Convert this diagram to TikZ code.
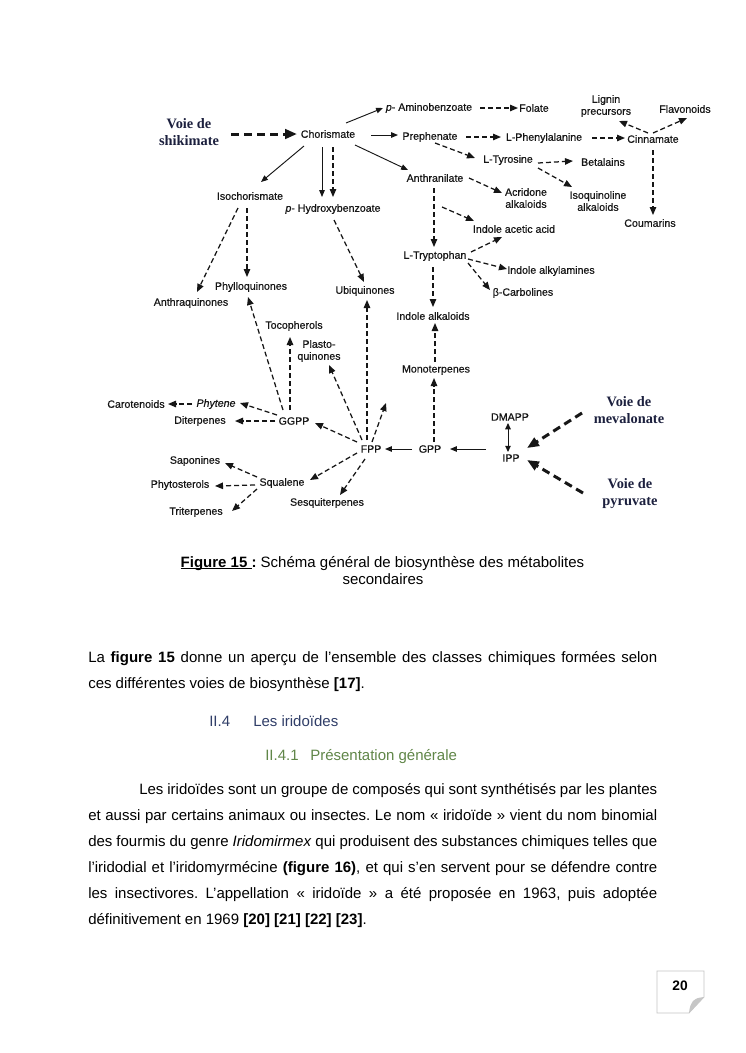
\documentclass[tikz,border=0pt]{standalone}
\usepackage{fontspec}
\setmainfont{Liberation Sans}
\newfontfamily\vfont{Liberation Serif}
\newfontfamily\lblfont{Liberation Sans}[FakeBold=0.5]
\usetikzlibrary{arrows.meta,calc}
\definecolor{headblue}{RGB}{48,62,104}
\definecolor{headgreen}{RGB}{96,134,72}
\definecolor{voiecol}{RGB}{28,32,62}
\definecolor{inkcol}{RGB}{22,22,22}
\newcommand\figul[1]{\setbox0\hbox{#1}\rlap{\rule[-1.7pt]{\wd0}{0.7pt}}\box0}
\tikzset{
  lbl/.style={font=\lblfont\fontsize{8.5}{9.6}\selectfont, inner sep=0pt, align=center, text=inkcol},
  voie/.style={font=\vfont\bfseries\fontsize{11.5}{13.6}\selectfont, inner sep=0pt, align=center, text=voiecol},
  txt/.style={font=\frenchspacing\fontsize{12}{14}\selectfont, inner sep=0pt},
  sarr/.style={-{Triangle[length=5.5pt,width=4.4pt]}, line width=0.75pt, draw=inkcol},
  darr/.style={-{Triangle[length=6.4pt,width=5.2pt]}, line width=1pt, dash pattern=on 4pt off 2.4pt, draw=inkcol},
  tarr/.style={-{Triangle[length=9.5pt,width=7.5pt]}, line width=2.4pt, dash pattern=on 6.4pt off 4pt, draw=inkcol},
  dbl/.style={{Triangle[length=5pt,width=4.4pt]}-{Triangle[length=5pt,width=4.4pt]}, line width=0.75pt, draw=inkcol},
}
\begin{document}
\begin{tikzpicture}[x=0.8pt,y=-0.8pt]
\fill[white] (0,0) rectangle (745,1053);
\useasboundingbox (0,0) rectangle (745,1053);

% ---------- diagram nodes ----------
\node[voie] (shik) at (189,132) {Voie de\\shikimate};
\node[lbl] (chor) at (328,134) {Chorismate};
\node[lbl] (pab) at (429,108) {\textit{p}- Aminobenzoate};
\node[lbl] (fol) at (534,108) {Folate};
\node[lbl] (preph) at (430,137) {Prephenate};
\node[lbl] (lphe) at (544,138) {L-Phenylalanine};
\node[lbl] (cinn) at (653,139) {Cinnamate};
\node[lbl] (lign) at (606,106) {Lignin\\precursors};
\node[lbl] (flav) at (685,109) {Flavonoids};
\node[lbl] (coum) at (650,223) {Coumarins};
\node[lbl] (ltyr) at (508,160) {L-Tyrosine};
\node[lbl] (beta) at (603,162) {Betalains};
\node[lbl] (isoq) at (598,201) {Isoquinoline\\alkaloids};
\node[lbl] (anth) at (435,178) {Anthranilate};
\node[lbl] (acri) at (526,198) {Acridone\\alkaloids};
\node[lbl] (iaa) at (514,229) {Indole acetic acid};
\node[lbl] (ltrp) at (435,256) {L-Tryptophan};
\node[lbl] (ialk) at (551,271) {Indole alkylamines};
\node[lbl] (bcarb) at (523,293) {β-Carbolines};
\node[lbl] (indalk) at (433,316) {Indole alkaloids};
\node[lbl] (mono) at (436,370) {Monoterpenes};
\node[lbl] (gpp) at (430,449) {GPP};
\node[lbl] (dmapp) at (510,417) {DMAPP};
\node[lbl] (ipp) at (511,458) {IPP};
\node[voie] (meva) at (629,410) {Voie de\\mevalonate};
\node[voie] (pyru) at (630,494) {Voie de\\pyruvate};
\node[lbl] (isoch) at (250,196) {Isochorismate};
\node[lbl] (phb) at (333,209) {\textit{p}- Hydroxybenzoate};
\node[lbl] (anthq) at (191,303) {Anthraquinones};
\node[lbl] (phyl) at (251,287) {Phylloquinones};
\node[lbl] (ubi) at (365,291) {Ubiquinones};
\node[lbl] (toco) at (294,326) {Tocopherols};
\node[lbl] (plasto) at (319,351) {Plasto-\\quinones};
\node[lbl] (ggpp) at (294,421) {GGPP};
\node[lbl] (fpp) at (371,449) {FPP};
\node[lbl] (carot) at (136,404) {Carotenoids};
\node[lbl] (phyt) at (216,404) {\textit{Phytene}};
\node[lbl] (diter) at (200,421) {Diterpenes};
\node[lbl] (squal) at (282,483) {Squalene};
\node[lbl] (sesq) at (327,503) {Sesquiterpenes};
\node[lbl] (sapo) at (195,461) {Saponines};
\node[lbl] (phyto) at (180,485) {Phytosterols};
\node[lbl] (trit) at (196,512) {Triterpenes};
\coordinate (fppup) at (386,403);

% ---------- connectors ----------
\draw[tarr] ($(shik)+(42,2)$) -- ($(chor)+(-31,0)$);
\draw[sarr] ($(chor)+(18,-11)$) -- ($(pab)+(-46,0)$);
\draw[sarr] ($(chor)+(43,1)$) -- ($(preph)+(-32,-2)$);
\draw[sarr] ($(chor)+(27,11)$) -- ($(anth)+(-27,-8)$);
\draw[sarr] ($(chor)+(-24,12)$) -- ($(isoch)+(11,-14)$);
\draw[sarr] ($(chor)+(-6,13)$) -- ($(phb)+(-11,-12)$);
\draw[darr] ($(chor)+(5,13)$) -- ($(phb)+(0,-12)$);
\draw[darr] ($(pab)+(51,0)$) -- ($(fol)+(-16,0)$);
\draw[darr] ($(preph)+(36,0)$) -- ($(lphe)+(-43,-1)$);
\draw[darr] ($(lphe)+(48,0)$) -- ($(cinn)+(-28,-1)$);
\draw[darr] ($(cinn)+(-5,-6)$) -- ($(lign)+(13,15)$);
\draw[darr] ($(cinn)+(0,-6)$) -- ($(flav)+(2,9)$);
\draw[darr] ($(cinn)+(0,11)$) -- ($(coum)+(3,-8)$);
\draw[darr] ($(preph)+(5,6)$) -- ($(ltyr)+(-33,-2)$);
\draw[darr] ($(ltyr)+(30,3)$) -- ($(beta)+(-30,-1)$);
\draw[darr] ($(ltyr)+(30,8)$) -- ($(isoq)+(-26,-14)$);
\draw[darr] ($(anth)+(34,0)$) -- ($(acri)+(-24,-5)$);
\draw[darr] ($(anth)+(-1,10)$) -- ($(ltrp)+(-1,-9)$);
\draw[darr] ($(anth)+(7,29)$) -- ($(iaa)+(-40,-8)$);
\draw[darr] ($(ltrp)+(36,-4)$) -- ($(iaa)+(-12,8)$);
\draw[darr] ($(ltrp)+(33,3)$) -- ($(ialk)+(-44,-2)$);
\draw[darr] ($(ltrp)+(33,7)$) -- ($(bcarb)+(-33,-3)$);
\draw[darr] ($(ltrp)+(-2,11)$) -- ($(indalk)+(0,-9)$);
\draw[darr] ($(mono)+(-1,-8)$) -- ($(indalk)+(2,7)$);
\draw[darr] ($(gpp)+(4,-7)$) -- ($(mono)+(-2,8)$);
\draw[sarr] ($(ipp)+(-25,-9)$) -- ($(gpp)+(20,0)$);
\draw[sarr] ($(gpp)+(-18,0)$) -- ($(fpp)+(14,0)$);
\draw[dbl] ($(dmapp)+(-2,6)$) -- ($(ipp)+(-3,-6)$);
\draw[tarr] ($(meva)+(-47,3)$) -- ($(ipp)+(16,-10)$);
\draw[tarr] ($(pyru)+(-47,-1)$) -- ($(ipp)+(16,2)$);
\draw[darr] ($(isoch)+(-12,12)$) -- ($(anthq)+(6,-11)$);
\draw[darr] ($(isoch)+(-3,12)$) -- ($(phyl)+(-4,-10)$);
\draw[darr] ($(phb)+(1,11)$) -- ($(ubi)+(-1,-9)$);
\draw[darr] ($(ggpp)+(-11,-11)$) -- ($(phyl)+(-3,10)$);
\draw[darr] ($(ggpp)+(-4,-11)$) -- ($(toco)+(-4,11)$);
\draw[darr] ($(fpp)+(-9,-9)$) -- ($(plasto)+(10,14)$);
\draw[darr] ($(fpp)+(-4,-9)$) -- ($(ubi)+(2,9)$);
\draw[darr] ($(fpp)+(1,-7)$) -- (fppup);
\draw[darr] ($(fpp)+(-14,-7)$) -- ($(ggpp)+(21,2)$);
\draw[darr] ($(ggpp)+(-17,-6)$) -- ($(phyt)+(24,-1)$);
\draw[darr] ($(phyt)+(-24,0)$) -- ($(carot)+(32,0)$);
\draw[darr] ($(ggpp)+(-19,0)$) -- ($(diter)+(35,0)$);
\draw[darr] ($(fpp)+(-14,4)$) -- ($(squal)+(28,-3)$);
\draw[darr] ($(fpp)+(-6,10)$) -- ($(sesq)+(13,-8)$);
\draw[darr] ($(squal)+(-25,-6)$) -- ($(sapo)+(30,2)$);
\draw[darr] ($(squal)+(-27,2)$) -- ($(phyto)+(35,1)$);
\draw[darr] ($(squal)+(-25,6)$) -- ($(trit)+(36,-1)$);

% ---------- caption and page text ----------
\node[txt, anchor=base] (cap1) at (382.5,567) {\figul{\textbf{Figure 15 }}\textbf{:} Schéma général de biosynthèse des métabolites};
\node[txt, anchor=base] (cap2) at (383,584) {secondaires};
\node[txt, anchor=base west] (p1a) at (88,662) {\makebox[455.2pt][s]{La \textbf{figure 15} donne un aperçu de l’ensemble des classes chimiques formées selon}};
\node[txt, anchor=base west] (p1b) at (88,688) {ces différentes voies de biosynthèse \textbf{[17]}.};
\node[txt, anchor=base west, text=headblue] (h1n) at (209,726) {II.4};
\node[txt, anchor=base west, text=headblue] (h1t) at (253,726) {Les iridoïdes};
\node[txt, anchor=base west, text=headgreen] (h2n) at (265,760) {II.4.1};
\node[txt, anchor=base west, text=headgreen] (h2t) at (310,760) {Présentation générale};
\node[txt, anchor=base west] (b1) at (139,794) {\makebox[414.4pt][s]{Les iridoïdes sont un groupe de composés qui sont synthétisés par les plantes}};
\node[txt, anchor=base west] (b2) at (88,820) {\makebox[455.2pt][s]{et aussi par certains animaux ou insectes. Le nom « iridoïde » vient du nom binomial}};
\node[txt, anchor=base west] (b3) at (88,846) {\makebox[455.2pt][s]{des fourmis du genre \textit{Iridomirmex} qui produisent des substances chimiques telles que}};
\node[txt, anchor=base west] (b4) at (88,872) {\makebox[455.2pt][s]{l’iridodial et l’iridomyrmécine \textbf{(figure 16)}, et qui s’en servent pour se défendre contre}};
\node[txt, anchor=base west] (b5) at (88,898) {\makebox[455.2pt][s]{les insectivores. L’appellation « iridoïde » a été proposée en 1963, puis adoptée}};
\node[txt, anchor=base west] (b6) at (88,924) {définitivement en 1969 \textbf{[20] [21] [22] [23]}.};

% ---------- page number box ----------
\draw[gray!45, line width=0.6pt] (657,971) -- (704,971) -- (704,997) -- (689,1013) -- (657,1013) -- cycle;
\fill[gray!45] (704,997) -- (689,1013) .. controls (690,1006) .. (693,1001) .. controls (697,998) .. (704,997);
\node[font=\bfseries\fontsize{11}{13}\selectfont, inner sep=0pt] (pnum) at (680,986) {20};
\end{tikzpicture}
\end{document}
